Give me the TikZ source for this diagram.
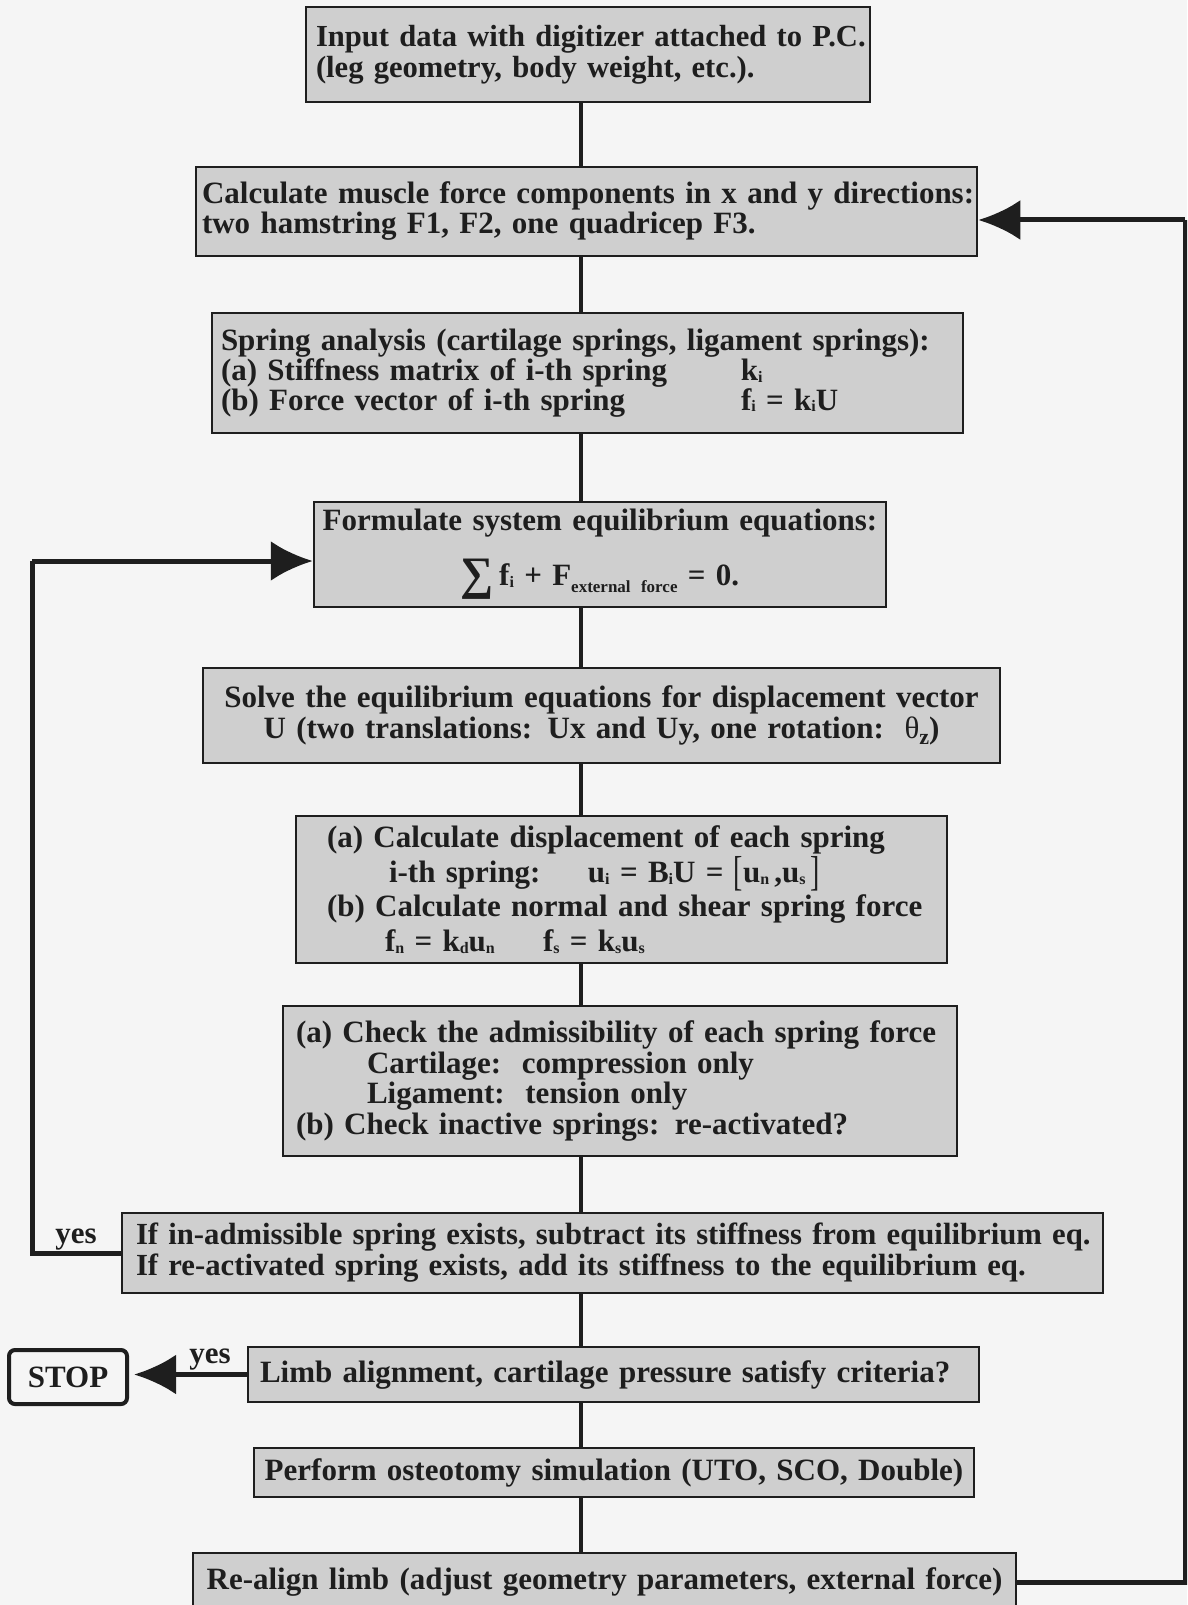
\documentclass[tikz,border=0pt]{standalone}
\usepackage{fontspec}
\setmainfont{Liberation Serif}
\usetikzlibrary{arrows.meta,calc}
\definecolor{boxfill}{RGB}{207,207,207}
\definecolor{ink}{RGB}{30,30,30}
\definecolor{paper}{RGB}{245,245,245}
\newcommand\lowsub[1]{\raisebox{-0.06em}{\fontsize{16}{16}\selectfont #1}}
\newcommand\deepsub[1]{\raisebox{-0.22em}{\fontsize{17}{17}\selectfont #1}}
\newcommand\oneline[1]{\mbox{#1}}
\newcommand\tallbr[1]{\raisebox{-0.1em}{\scalebox{0.9}[1.35]{\mdseries #1}}}
\begin{document}
\begin{tikzpicture}[x=1pt,y=-1pt,
  flow/.style={draw=ink, fill=boxfill, line width=2.5pt, inner ysep=0pt, text=ink,
    font=\bfseries\fontsize{31}{31}\selectfont},
  spine/.style={draw=ink, line width=3.5pt},
  fb/.style={draw=ink, line width=5pt},
  fbarrow/.style={draw=ink, line width=5pt, -{Latex[length=42pt,width=40pt]}},
  lbl/.style={text=ink, font=\bfseries\fontsize{31}{31}\selectfont, inner sep=0pt, anchor=base}
]
\useasboundingbox (0,0) rectangle (1187,1605);
\clip (0,0) rectangle (1187,1605);
\fill[paper] (0,0) rectangle (1187,1605);

\coordinate (sx) at (581,0);
\coordinate (L) at (32,0);
\coordinate (R) at (1185,0);

\node[flow, minimum height=95pt, inner xsep=10pt, text width=544pt, align=left,
  font=\bfseries\fontsize{30.6}{31}\selectfont] (n1) at (588,54.5)
  {\oneline{Input data with digitizer attached to P.C.}\\(leg geometry, body weight, etc.).};

\node[flow, minimum height=89pt, inner xsep=6pt, text width=769pt, align=left,
  font=\bfseries\fontsize{31}{30}\selectfont] (n2) at (586.5,211.5)
  {\oneline{Calculate muscle force components in x and y directions:}\\two hamstring F1, F2, one quadricep F3.};

\node[flow, minimum height=120pt, inner xsep=9pt, text width=733pt, align=left,
  font=\bfseries\fontsize{31}{28.5}\selectfont] (n3) at (587.5,373)
  {\oneline{Spring analysis (cartilage springs, ligament springs):}\\
   \makebox[520pt][l]{(a) Stiffness matrix of i-th spring}k\lowsub{i}\\
   \makebox[520pt][l]{(b) Force vector of i-th spring}f\lowsub{i} = k\lowsub{i}U};

\node[flow, minimum height=105pt, inner xsep=8pt, text width=556pt, align=center,
  font=\bfseries\fontsize{31}{55}\selectfont] (n4) at (600,554.5)
  {\oneline{Formulate system equilibrium equations:}\\
   \raisebox{-0.14em}{\scalebox{1.5}{∑}}\,f\lowsub{i} + F\deepsub{external force} = 0.};

\node[flow, minimum height=95pt, inner xsep=8pt, text width=781pt, align=center] (n5) at (601.5,715.5)
  {\oneline{Solve the equilibrium equations for displacement vector}\\
   U (two translations: Ux and Uy, one rotation:~~{\mdseries θ}\raisebox{-0.2em}{\fontsize{22}{22}\selectfont z})};

\node[flow, minimum height=147pt, inner xsep=31pt, text width=589pt, align=left,
  font=\bfseries\fontsize{31}{34.5}\selectfont] (n6) at (621.5,889.5)
  {\oneline{(a) Calculate displacement of each spring}\\
   \hspace*{62pt}\makebox[199pt][l]{i-th spring:}u\lowsub{i} = B\lowsub{i}U = \tallbr{[}u\lowsub{n}\,,u\lowsub{s}\,\tallbr{]}\\
   \oneline{(b) Calculate normal and shear spring force}\\
   \hspace*{58pt}\makebox[158pt][l]{f\lowsub{n} = k\lowsub{d}u\lowsub{n}}f\lowsub{s} = k\lowsub{s}u\lowsub{s}};

\node[flow, minimum height=150pt, inner xsep=13pt, text width=648pt, align=left,
  font=\bfseries\fontsize{31}{30.5}\selectfont] (n7) at (620,1081)
  {\oneline{(a) Check the admissibility of each spring force}\\
   \hspace*{71pt}Cartilage:~~compression only\\
   \hspace*{71pt}Ligament:~~tension only\\
   (b) Check inactive springs: re-activated?};

\node[flow, minimum height=80pt, inner xsep=14pt, text width=953pt, align=left,
  font=\bfseries\fontsize{30.7}{31}\selectfont] (n8) at (612.5,1253)
  {\oneline{If in-admissible spring exists, subtract its stiffness from equilibrium eq.}\\
   \oneline{If re-activated spring exists, add its stiffness to the equilibrium eq.}};

\node[flow, minimum height=55pt, inner xsep=12pt, text width=707pt, align=left] (n9) at (613.5,1374.5)
  {\oneline{Limb alignment, cartilage pressure satisfy criteria?}};

\node[flow, minimum height=49pt, inner xsep=8pt, text width=704pt, align=center] (n10) at (614,1472.5)
  {\oneline{Perform osteotomy simulation (UTO, SCO, Double)}};

\node[flow, minimum height=58pt, inner xsep=8pt, text width=807pt, align=center] (n11) at (604.5,1582)
  {\oneline{Re-align limb (adjust geometry parameters, external force)}};

\node[draw=ink, fill=paper, line width=4pt, rounded corners=6pt, minimum width=118pt,
  minimum height=54pt, text=ink, font=\bfseries\fontsize{31}{31}\selectfont] (stop) at (68,1377) {STOP};

% spine connectors
\foreach \a/\b in {n1/n2,n2/n3,n3/n4,n4/n5,n5/n6,n6/n7,n7/n8,n8/n9,n9/n10,n10/n11}
  \draw[spine] (\a.south -| sx) -- (\b.north -| sx);

% left feedback loop
\draw[fb, line join=miter] (n8.west) -- (n8.west -| L) -- ([yshift=-6.5pt]n4.west -| L);
\draw[fbarrow] ([yshift=-6.5pt]n4.west -| L) -- ([yshift=-6.5pt]n4.west);
\node[lbl] (yes1) at (76,1243) {yes};

% stop arrow
\draw[fbarrow, shorten >=5pt] (n9.west) -- (n9.west -| stop.east);
\node[lbl] (yes2) at (210,1363) {yes};

% right feedback loop
\draw[fb, line join=miter] (n11.east) -- (n11.east -| R) -- ([yshift=-8.5pt]n2.east -| R);
\draw[fbarrow] ([yshift=-8.5pt]n2.east -| R) -- ([yshift=-8.5pt]n2.east);
\end{tikzpicture}
\end{document}
